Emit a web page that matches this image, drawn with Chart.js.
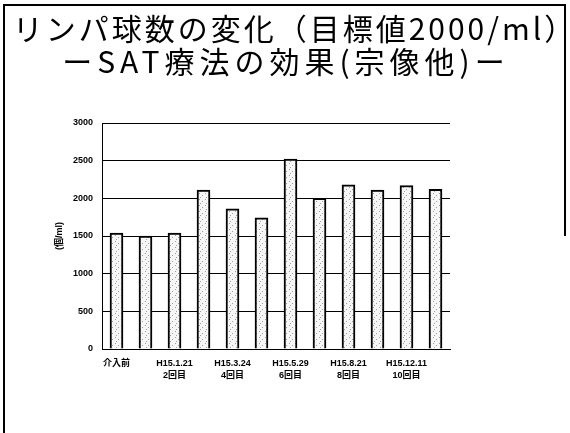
<!DOCTYPE html>
<html lang="ja">
<head>
  <meta charset="UTF-8" />
  <script src="https://cdn.jsdelivr.net/npm/chart.js"></script>
  <title>リンパ球数の変化</title>
  <style>
    html, body { margin: 0; padding: 0; background: #fff; overflow: hidden; }
    #page { position: relative; width: 570px; height: 433px; overflow: hidden; }
    #frame {
      position: absolute; left: 3px; top: 4px; width: 562px; height: 460px; z-index: 10;
      border-left: 2px solid #000; border-top: 2px solid #000; box-sizing: border-box;
    }
    #frameRight { position: absolute; left: 564px; top: 4px; width: 2px; height: 232px; background: #000; z-index: 10; }
    .title {
      position: absolute; left: 0; width: 590px; text-align: center; white-space: nowrap; z-index: 4;
      font-family: 'Noto Sans CJK JP', sans-serif; font-size: 30px; color: #000; line-height: 1;
    }
    #chartBox { position: absolute; left: 0; top: 0; width: 570px; height: 433px; z-index: 1; }
  </style>
</head>
<body>
<div id="page">
  <div id="chartBox"><canvas id="lymphChart"></canvas></div>

  <div class="title" style="top:12px; letter-spacing:3px;">リンパ球数の変化（目標値2000/ml）</div>
  <div class="title" style="top:45px; width:572px; letter-spacing:5px;">ーSAT療法の効果(宗像他)ー</div>

  <div id="frame"></div>
  <div id="frameRight"></div>
</div>

<script>
  // 12 measurements, every other one labelled
  const categories = [
    '介入前', '',
    ['H15.1.21', '2回目'], '',
    ['H15.3.24', '4回目'], '',
    ['H15.5.29', '6回目'], '',
    ['H15.8.21', '8回目'], '',
    ['H15.12.11', '10回目'], ''
  ];
  const lymphocytes = [1540, 1500, 1540, 2110, 1860, 1740, 2520, 2000, 2180, 2110, 2170, 2120];
  const yTicks = [0, 500, 1000, 1500, 2000, 2500, 3000];

  // speckled fill like the scanned bars
  function makePattern() {
    const c = document.createElement('canvas');
    c.width = 6; c.height = 6;
    const g = c.getContext('2d');
    g.fillStyle = '#f6f6f6';
    g.fillRect(0, 0, 6, 6);
    g.fillStyle = '#a0a0a0';
    g.fillRect(1, 1, 1, 1);
    g.fillRect(4, 3, 1, 1);
    g.fillRect(2, 5, 1, 1);
    return g.createPattern(c, 'repeat');
  }

  const fontFamily = "'Liberation Sans', 'Noto Sans CJK JP', sans-serif";

  new Chart(document.getElementById('lymphChart'), {
    type: 'bar',
    data: {
      labels: categories,
      datasets: [{
        label: 'リンパ球数',
        data: lymphocytes,
        backgroundColor: makePattern(),
        borderColor: '#000',
        borderWidth: 2,
        borderSkipped: 'bottom',
        barThickness: 13
      }]
    },
    options: {
      responsive: true,
      maintainAspectRatio: false,
      animation: false,
      layout: { padding: { left: 48, top: 123, right: 120, bottom: 30 } },
      plugins: { legend: { display: false }, tooltip: { enabled: false } },
      scales: {
        x: {
          grid: { display: false, drawTicks: false },
          border: { display: true, color: '#000', width: 1 },
          ticks: {
            autoSkip: false, maxRotation: 0, minRotation: 0, padding: 9, color: '#000',
            font: { family: fontFamily, size: 9, weight: 'bold', lineHeight: 1.3 }
          },
          afterFit: (s) => { s.height = 54; }
        },
        y: {
          min: 0, max: 3000,
          afterBuildTicks: (s) => { s.ticks = yTicks.map(v => ({ value: v })); },
          grid: { color: '#000', lineWidth: 1, drawTicks: false },
          border: { display: true, color: '#000', width: 1 },
          ticks: {
            padding: 9, color: '#000',
            callback: (v) => String(v),
            font: { family: fontFamily, size: 9, weight: 'bold' }
          },
          title: {
            display: true, text: '(個/ml)', color: '#000', padding: { top: 6, bottom: 0 },
            font: { family: fontFamily, size: 9, weight: 'bold' }
          },
          afterFit: (s) => { s.width = 54; }
        }
      }
    }
  });
</script>
</body>
</html>
